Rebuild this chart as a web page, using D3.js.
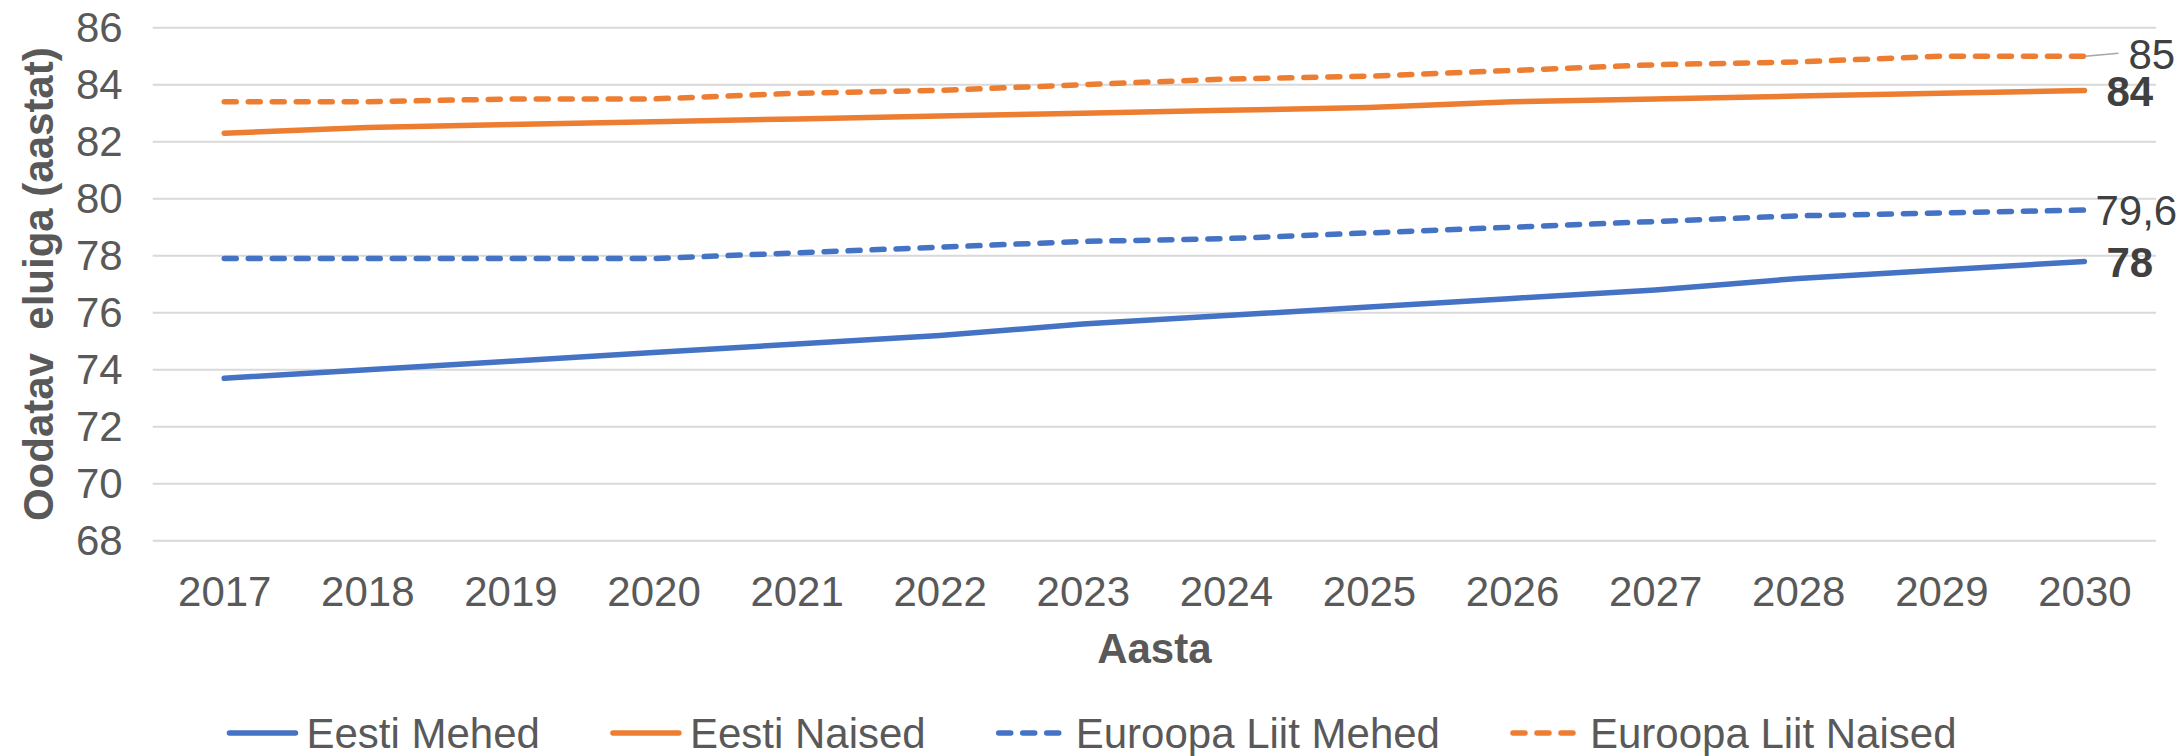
<!DOCTYPE html>
<html lang="et">
<head>
<meta charset="utf-8">
<title>Oodatav eluiga</title>
<script src="https://cdn.jsdelivr.net/npm/d3@7/dist/d3.min.js"></script>
<style>
  html, body { margin: 0; padding: 0; background: #ffffff; }
  svg { display: block; font-family: "Liberation Sans", Arial, sans-serif; }
</style>
</head>
<body>
<svg id="chart" width="2183" height="756"></svg>
<script>
// Aastad
const years = [2017, 2018, 2019, 2020, 2021, 2022, 2023, 2024, 2025, 2026, 2027, 2028, 2029, 2030];

// Oodatav eluiga sünnil (aastat)
const eestiMehed = [73.7, 74.0, 74.3, 74.6, 74.9, 75.2, 75.6, 75.9, 76.2, 76.5, 76.8, 77.2, 77.5, 77.8];
const eestiNaised = [82.3, 82.5, 82.6, 82.7, 82.8, 82.9, 83.0, 83.1, 83.2, 83.4, 83.5, 83.6, 83.7, 83.8];
const elMehed = [77.9, 77.9, 77.9, 77.9, 78.1, 78.3, 78.5, 78.6, 78.8, 79.0, 79.2, 79.4, 79.5, 79.6];
const elNaised = [83.4, 83.4, 83.5, 83.5, 83.7, 83.8, 84.0, 84.2, 84.3, 84.5, 84.7, 84.8, 85.0, 85.0];

const seriesNames = ["Eesti Mehed", "Eesti Naised", "Euroopa Liit Mehed", "Euroopa Liit Naised"];
const yTicks = [68, 70, 72, 74, 76, 78, 80, 82, 84, 86];

const seriesValues = [eestiMehed, eestiNaised, elMehed, elNaised];

// Joonte stiil
const styles = [
  { color: "#4472C4", dash: null, bold: true, decimals: ".0f", dx: 22, leader: false },
  { color: "#ED7D31", dash: null, bold: true, decimals: ".0f", dx: 22, leader: false },
  { color: "#4472C4", dash: "12,12", bold: false, decimals: ".1~f", dx: 11, leader: false },
  { color: "#ED7D31", dash: "12,12", bold: false, decimals: ".1~f", dx: 44, leader: true }
];

const etLocale = d3.formatLocale({ decimal: ",", thousands: " ", grouping: [3], currency: ["", " €"] });

const svg = d3.select("#chart");
const W = 2183;
const margin = { left: 152.7, right: 2156, top: 27.7, bottom: 540.7 };

const x = d3.scalePoint().domain(years).range([margin.left, margin.right]).padding(0.5);
const y = d3.scaleLinear().domain([68, 86]).range([margin.bottom, margin.top]);

const textColor = "#595959";
const fontSize = 42;

// Ruudustik
svg.append("g")
  .selectAll("line")
  .data(yTicks)
  .join("line")
  .attr("x1", margin.left)
  .attr("x2", margin.right)
  .attr("y1", d => y(d))
  .attr("y2", d => y(d))
  .attr("stroke", "#D9D9D9")
  .attr("stroke-width", 2);

// Y-telg
const yAxis = svg.append("g")
  .attr("transform", `translate(${margin.left},0)`)
  .call(d3.axisLeft(y).tickValues(yTicks).tickSize(0).tickPadding(30).tickFormat(d3.format("d")));
yAxis.select(".domain").remove();
yAxis.selectAll("text")
  .attr("fill", textColor)
  .attr("font-size", fontSize)
  .attr("font-family", "Liberation Sans, Arial, sans-serif");

// X-telg
const xAxis = svg.append("g")
  .attr("transform", `translate(0,${margin.bottom})`)
  .call(d3.axisBottom(x).tickSize(0).tickPadding(35).tickFormat(d3.format("d")));
xAxis.select(".domain").remove();
xAxis.selectAll("text")
  .attr("fill", textColor)
  .attr("font-size", fontSize)
  .attr("font-family", "Liberation Sans, Arial, sans-serif");

// Telgede pealkirjad
svg.append("text")
  .attr("transform", `translate(52.5,${(margin.top + margin.bottom) / 2}) rotate(-90)`)
  .attr("text-anchor", "middle")
  .attr("font-size", fontSize)
  .attr("font-weight", "bold")
  .attr("fill", textColor)
  .attr("xml:space", "preserve")
  .style("white-space", "pre")
  .text("Oodatav  eluiga (aastat)");

svg.append("text")
  .attr("x", (margin.left + margin.right) / 2)
  .attr("y", 663)
  .attr("text-anchor", "middle")
  .attr("font-size", fontSize)
  .attr("font-weight", "bold")
  .attr("fill", textColor)
  .text("Aasta");

// Jooned
const line = d3.line()
  .x((d, i) => x(years[i]))
  .y(d => y(d));

seriesValues.forEach((vals, k) => {
  svg.append("path")
    .datum(vals)
    .attr("d", line)
    .attr("fill", "none")
    .attr("stroke", styles[k].color)
    .attr("stroke-width", 5.5)
    .attr("stroke-linecap", "round")
    .attr("stroke-linejoin", "round")
    .attr("stroke-dasharray", styles[k].dash);
});

// Viimase aasta väärtuste sildid
const lastIdx = years.length - 1;
seriesValues.forEach((vals, k) => {
  const st = styles[k];
  const v = vals[lastIdx];
  const px = x(years[lastIdx]);
  const py = y(v);
  if (st.leader) {
    svg.append("line")
      .attr("x1", px + 1)
      .attr("y1", py)
      .attr("x2", px + st.dx - 10)
      .attr("y2", py - 3)
      .attr("stroke", "#A6A6A6")
      .attr("stroke-width", 1.5);
  }
  svg.append("text")
    .attr("x", px + st.dx)
    .attr("y", py + (st.leader ? -2.5 : 0))
    .attr("dy", "0.36em")
    .attr("font-size", fontSize)
    .attr("font-weight", st.bold ? "bold" : "normal")
    .attr("fill", "#404040")
    .text(etLocale.format(st.decimals)(v));
});

// Legend
const legend = svg.append("g");
const symLen = 72;
const symGap = 8;
const entryGap = 70;
const legendY = 733;
let cursor = 0;
seriesNames.forEach((name, k) => {
  const g = legend.append("g").attr("transform", `translate(${cursor},0)`);
  g.append("line")
    .attr("x1", 3)
    .attr("x2", symLen - 3)
    .attr("y1", legendY)
    .attr("y2", legendY)
    .attr("stroke", styles[k].color)
    .attr("stroke-width", 5.5)
    .attr("stroke-linecap", "round")
    .attr("stroke-dasharray", styles[k].dash ? "12,12" : null);
  const t = g.append("text")
    .attr("x", symLen + symGap)
    .attr("y", legendY)
    .attr("dy", "0.35em")
    .attr("font-size", fontSize)
    .attr("fill", textColor)
    .text(name);
  cursor += symLen + symGap + t.node().getComputedTextLength() + entryGap;
});
const legendWidth = cursor - entryGap;
legend.attr("transform", `translate(${(W - legendWidth) / 2},0)`);
</script>
</body>
</html>
